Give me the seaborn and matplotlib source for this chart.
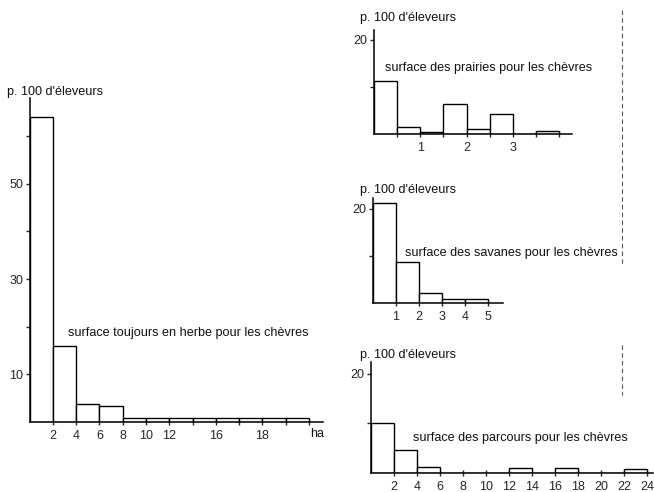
import matplotlib
matplotlib.use("Agg")
import matplotlib.pyplot as plt
from matplotlib.lines import Line2D
import numpy as np
import pandas as pd
import seaborn as sns

# surface toujours en herbe (ha), classes of 2 ha
herbe_edges = [0, 2, 4, 6, 8, 10, 12, 14, 16, 18, 20, 22, 24]
herbe_pct = [64, 16, 3.8, 3.4, 0.9, 0.9, 0.9, 0.9, 0.9, 0.9, 0.9, 0.9]
herbe_tick_pos = [2, 4, 6, 8, 10, 12, 16, 20]
herbe_tick_lab = ["2", "4", "6", "8", "10", "12", "16", "18"]

# prairies, classes of 0.5 ha
prairie_edges = [0, 0.5, 1, 1.5, 2, 2.5, 3, 3.5, 4]
prairie_pct = [11.3, 1.4, 0.5, 6.4, 1.0, 4.3, 0, 0.6]
prairie_tick_lab = ["1", "2", "3"]

# savanes, classes of 1 ha
savane_edges = [0, 1, 2, 3, 4, 5]
savane_pct = [21.3, 8.7, 2.1, 0.9, 0.9]
savane_tick_lab = ["1", "2", "3", "4", "5"]

# parcours, classes of 2 ha
parcours_edges = [0, 2, 4, 6, 8, 10, 12, 14, 16, 18, 20, 22, 24]
parcours_pct = [10.1, 4.7, 1.3, 0, 0, 0, 1.1, 0, 1.1, 0, 0, 0.9]
parcours_tick_lab = ["2", "4", "6", "8", "10", "12", "14", "16", "18", "20", "22", "24"]

ylabel = "p. 100 d'éleveurs"

sns.set_style("ticks")
plt.rcParams["font.family"] = ["Liberation Sans", "DejaVu Sans"]
plt.rcParams["font.size"] = 9.1
plt.rcParams["text.color"] = "#111111"

W, H = 654, 492
fig = plt.figure(figsize=(W / 100, H / 100), dpi=100)


def px_axes(x0, x1, ybase, ytop):
    # pixel box -> figure fraction axes
    return fig.add_axes([x0 / W, (H - ybase) / H, (x1 - x0) / W, (ybase - ytop) / H])


def hist(ax, edges, pct, xmax, ymax):
    e = np.array(edges, dtype=float)
    df = pd.DataFrame({"ha": (e[:-1] + e[1:]) / 2, "pct": pct})
    sns.histplot(data=df, x="ha", weights="pct", bins=list(edges), ax=ax, color="white",
                 edgecolor="black", linewidth=1.0, alpha=1)
    ax.set_xlim(0, xmax)
    ax.set_ylim(0, ymax)
    ax.set_xlabel("")
    ax.set_ylabel("")
    sns.despine(ax=ax)
    for s in ("left", "bottom"):
        ax.spines[s].set_linewidth(1.1)
        ax.spines[s].set_color("black")
    ax.tick_params(axis="x", which="both", direction="inout", length=5, width=1, pad=3, labelsize=9)
    ax.tick_params(axis="y", which="both", direction="out", length=3, width=1, pad=1.5, labelsize=9)
    ax.patch.set_alpha(0)


# left: surface toujours en herbe
ax1 = px_axes(29.5, 323, 422, 98)
hist(ax1, herbe_edges, herbe_pct, 25.2, 68)
ax1.set_yticks([10, 20, 30, 40, 50, 60], ["10", "", "30", "", "50", ""])
ax1.set_xticks(herbe_tick_pos, herbe_tick_lab)
ax1.set_xticks([14, 18, 22, 24], minor=True)
ax1.text(24.7, -1.2, "ha", transform=ax1.transData, ha="center", va="top", fontsize=9)
ax1.text(3.3, 18.7, "surface toujours en herbe pour les chèvres", ha="left", va="center")
fig.text(7 / W, (H - 92) / H, ylabel, ha="left", va="center")

# top right: prairies
ax2 = px_axes(374, 572, 134, 30)
hist(ax2, prairie_edges, prairie_pct, 4.28, 22.1)
ax2.set_yticks([10, 20], ["", "20"])
ax2.set_xticks([1, 2, 3], prairie_tick_lab)
ax2.set_xticks([0.5, 1.5, 2.5, 3.5, 4], minor=True)
fig.text(360 / W, (H - 18) / H, ylabel, ha="left", va="center")
fig.text(385 / W, (H - 68) / H, "surface des prairies pour les chèvres", ha="left", va="center")

# middle right: savanes
ax3 = px_axes(373, 503, 303, 198)
hist(ax3, savane_edges, savane_pct, 5.65, 22.3)
ax3.set_yticks([10, 20], ["", "20"])
ax3.set_xticks([1, 2, 3, 4, 5], savane_tick_lab)
fig.text(360 / W, (H - 190) / H, ylabel, ha="left", va="center")
fig.text(405 / W, (H - 253) / H, "surface des savanes pour les chèvres", ha="left", va="center")

# bottom right: parcours
ax4 = px_axes(371, 653, 473, 362)
hist(ax4, parcours_edges, parcours_pct, 24.5, 22.4)
ax4.set_yticks([10, 20], ["", "20"])
ax4.set_xticks(parcours_edges[1:], parcours_tick_lab)
fig.text(360 / W, (H - 355) / H, ylabel, ha="left", va="center")
fig.text(413 / W, (H - 438) / H, "surface des parcours pour les chèvres", ha="left", va="center")

# page fold line on the right
for y0, y1 in [(10, 265), (345, 395)]:
    fig.add_artist(Line2D([622 / W, 622 / W], [(H - y0) / H, (H - y1) / H],
                          transform=fig.transFigure, color="#555555", lw=0.8,
                          dashes=(4, 3)))

fig.savefig("out.png", dpi=100, facecolor="white")
